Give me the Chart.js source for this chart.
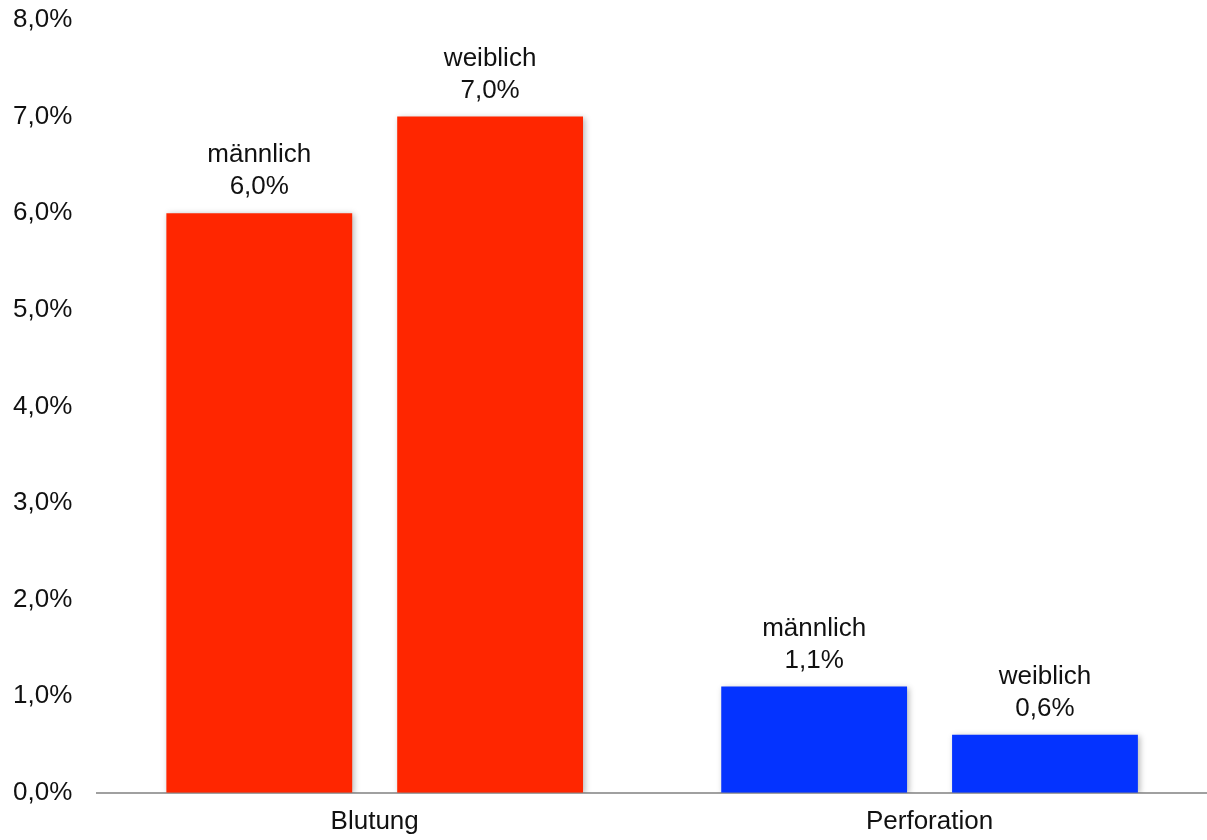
<!DOCTYPE html>
<html lang="de">
<head>
<meta charset="utf-8">
<title>Blutung / Perforation</title>
<script src="https://cdn.jsdelivr.net/npm/chart.js@4/dist/chart.umd.min.js"></script>
<style>
  html, body { margin: 0; padding: 0; background: #fff; }
  #wrap { width: 1207px; height: 840px; }
</style>
</head>
<body>
<div id="wrap"><canvas id="chart"></canvas></div>
<script>
// ── Data ──────────────────────────────────────────────────────────────────────
const categories = ["Blutung", "Perforation"];
const maleValues   = [6.0, 1.1];
const femaleValues = [7.0, 0.6];
const yTicks = [0, 1, 2, 3, 4, 5, 6, 7, 8];

// one colour per category, shared by both series
const CAT_COLORS = ["#FF2600", "#0433FF"];
const FONT = "'Liberation Sans', Arial, Helvetica, sans-serif";

const fmtPct = v => v.toFixed(1).replace(".", ",") + "%";

// soft drop shadow under the bars only
const barShadow = {
  id: "barShadow",
  beforeDatasetsDraw(chart) {
    const ctx = chart.ctx;
    ctx.save();
    ctx.shadowColor = "rgba(0,0,0,0.28)";
    ctx.shadowBlur = 6;
    ctx.shadowOffsetX = 2;
    ctx.shadowOffsetY = 1;
  },
  afterDatasetsDraw(chart) {
    chart.ctx.restore();
  }
};

// "männlich / 6,0%" two-line label above each bar
const barLabels = {
  id: "barLabels",
  afterDatasetsDraw(chart) {
    const ctx = chart.ctx;
    ctx.save();
    ctx.fillStyle = "#111";
    ctx.font = `26px ${FONT}`;
    ctx.textAlign = "center";
    ctx.textBaseline = "alphabetic";
    chart.data.datasets.forEach((ds, i) => {
      chart.getDatasetMeta(i).data.forEach((bar, j) => {
        const top = bar.y;
        ctx.fillText(fmtPct(ds.data[j]), bar.x, top - 19);
        ctx.fillText(ds.label, bar.x, top - 51);
      });
    });
    ctx.restore();
  }
};

new Chart(document.getElementById("chart"), {
  type: "bar",
  data: {
    labels: categories,
    datasets: [
      { label: "männlich", data: maleValues,   backgroundColor: CAT_COLORS, borderWidth: 0 },
      { label: "weiblich", data: femaleValues, backgroundColor: CAT_COLORS, borderWidth: 0 },
    ]
  },
  options: {
    responsive: true, maintainAspectRatio: false,
    animation: false,
    layout: { padding: { left: -12, right: 0, top: 20, bottom: -10 } },
    datasets: { bar: { categoryPercentage: 0.832, barPercentage: 0.805 } },
    plugins: { legend: { display: false }, tooltip: { enabled: false } },
    scales: {
      x: {
        grid: { display: false, drawTicks: false },
        border: { display: true, color: "#a0a0a0", width: 2 },
        ticks: { color: "#111", font: { family: FONT, size: 26 }, padding: 13 }
      },
      y: {
        min: 0, max: 8,
        afterBuildTicks: axis => { axis.ticks = yTicks.map(v => ({ value: v })); },
        // let the top tick label overhang the chart area instead of pushing it down
        afterFit: axis => { axis.paddingTop = 0; },
        grid: { display: false, drawTicks: false },
        border: { display: false },
        ticks: {
          color: "#111", font: { family: FONT, size: 26 }, padding: 25,
          callback: v => fmtPct(v)
        }
      }
    }
  },
  plugins: [barShadow, barLabels]
});
</script>
</body>
</html>
